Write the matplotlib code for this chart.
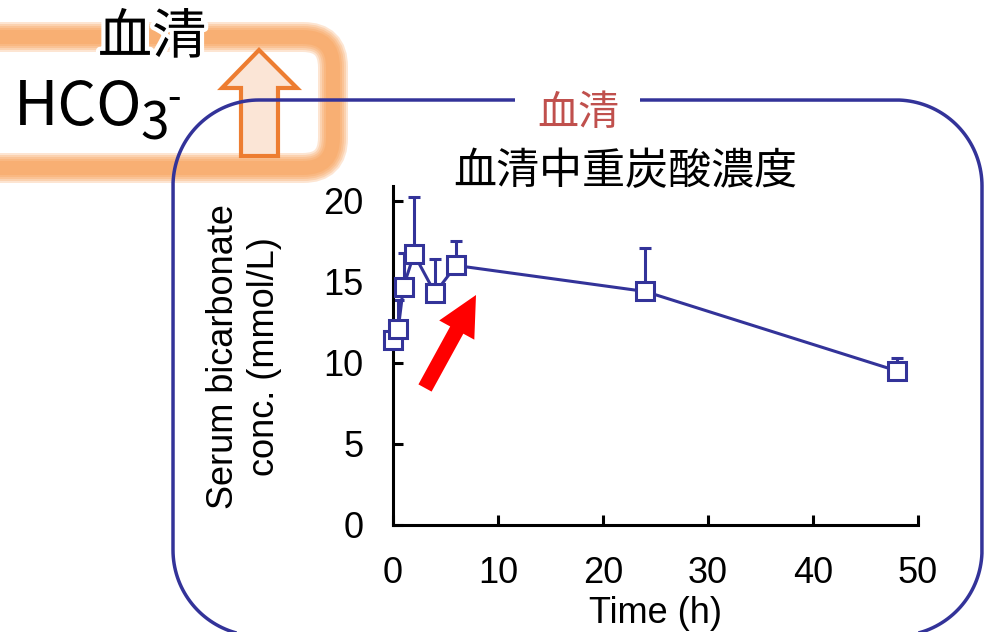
import numpy as np
import matplotlib
matplotlib.use('Agg')
import matplotlib.pyplot as plt
import matplotlib.patheffects as pe
from matplotlib.patches import FancyBboxPatch, Polygon

# serum bicarbonate after dosing (mean, upper SD)
time_h = [0, 0.5, 1, 2, 4, 6, 24, 48]
bicarb = [11.4, 12.1, 14.7, 16.7, 14.3, 16.0, 14.4, 9.5]
err_up = [0.0, 1.75, 2.1, 3.5, 2.1, 1.5, 2.7, 0.8]

x_ticks = [0, 10, 20, 30, 40, 50]
y_ticks = [0, 5, 10, 15, 20]

title = '血清中重炭酸濃度'
panel_tag = '血清'
side_tag = '血清'

blue = '#333399'
cjk = ['Noto Sans CJK JP', 'DejaVu Sans']
plt.rcParams['font.family'] = ['Liberation Sans', 'DejaVu Sans']

W, H = 986, 632
fig = plt.figure(figsize=(W / 100, H / 100), dpi=100)

# main chart
ax = fig.add_axes([393 / W, 1 - 525 / H, 525 / W, 339 / H])
ax.errorbar(time_h, bicarb, yerr=[np.zeros(len(err_up)), err_up], fmt='none',
            ecolor=blue, elinewidth=2.2, capsize=4.3, capthick=2.2, zorder=2)
ax.plot(time_h, bicarb, color=blue, lw=2.2, marker='s', ms=13, mfc='white',
        mec=blue, mew=2.2, clip_on=False, zorder=3)
ax.set_xlim(0, 50)
ax.set_ylim(0, 20.9)
ax.set_xticks(x_ticks)
ax.set_yticks(y_ticks)
for s in ['top', 'right']:
    ax.spines[s].set_visible(False)
for s in ['left', 'bottom']:
    ax.spines[s].set_linewidth(2.2)
ax.tick_params(direction='in', length=7, width=2.2, labelsize=26)
ax.tick_params(axis='x', pad=22)
ax.tick_params(axis='y', pad=21)
ax.set_xlabel('Time (h)', fontsize=26)
ax.set_ylabel('Serum bicarbonate\nconc. (mmol/L)', fontsize=26, linespacing=1.2)
ax.xaxis.set_label_coords(0.5, -0.21)
ax.yaxis.set_label_coords(-0.212, 0.496)

# decorations in pixel coordinates
ov = fig.add_axes([0, 0, 1, 1], zorder=5)
ov.set_xlim(0, W)
ov.set_ylim(H, 0)
ov.axis('off')


def arc(cx, cy, r, a0, a1):
    t = np.radians(np.linspace(a0, a1, 40))
    return cx + r * np.cos(t), cy - r * np.sin(t)


# blue rounded frame with a gap for the tag
L, R, T, B, rad = 173, 982, 100, 636, 86
pieces = [([640], [T]),
          arc(R - rad, T + rad, rad, 90, 0),
          arc(R - rad, B - rad, rad, 0, -90),
          arc(L + rad, B - rad, rad, -90, -180),
          arc(L + rad, T + rad, rad, 180, 90),
          ([515], [T])]
fx = np.concatenate([np.asarray(p[0]) for p in pieces])
fy = np.concatenate([np.asarray(p[1]) for p in pieces])
ov.plot(fx, fy, color=blue, lw=2.5, clip_on=False, solid_capstyle='butt')

ov.text(578, 113, panel_tag, fontsize=29.5, color='#C0504D', ha='center',
        va='center', family=cjk)
ov.text(625, 172, title, fontsize=31, ha='center', va='center', family=cjk)

# orange glow frame
for lw in [30, 26, 22, 18, 14]:
    ov.add_patch(FancyBboxPatch((-60, 37), 333 + 60, 168 - 37,
                                boxstyle='round,pad=0,rounding_size=30',
                                fill=False, ec='#F79646', lw=lw * 0.72, alpha=0.24))

ov.add_patch(Polygon([(259, 50), (297, 88), (278, 88), (278, 156), (241, 156),
                      (241, 88), (222, 88)], closed=True, fc='#FBE5D6',
                     ec='#ED7D31', lw=3, joinstyle='miter'))

halo = [pe.withStroke(linewidth=6, foreground='white')]
ov.text(152, 38, side_tag, fontsize=39, ha='center', va='center', family=cjk,
        path_effects=halo)
ov.text(14, 125, 'HCO', fontsize=44, ha='left', va='baseline', family=cjk)
ov.text(140, 139, '3', fontsize=37, ha='left', va='baseline', family=cjk)
ov.text(167, 110, '-', fontsize=28, ha='left', va='baseline', family=cjk)

ov.arrow(425, 388, 51, -93, width=15, head_width=40, head_length=40,
         length_includes_head=True, fc='#FF0000', ec='none')

fig.savefig('out.png', dpi=100)
